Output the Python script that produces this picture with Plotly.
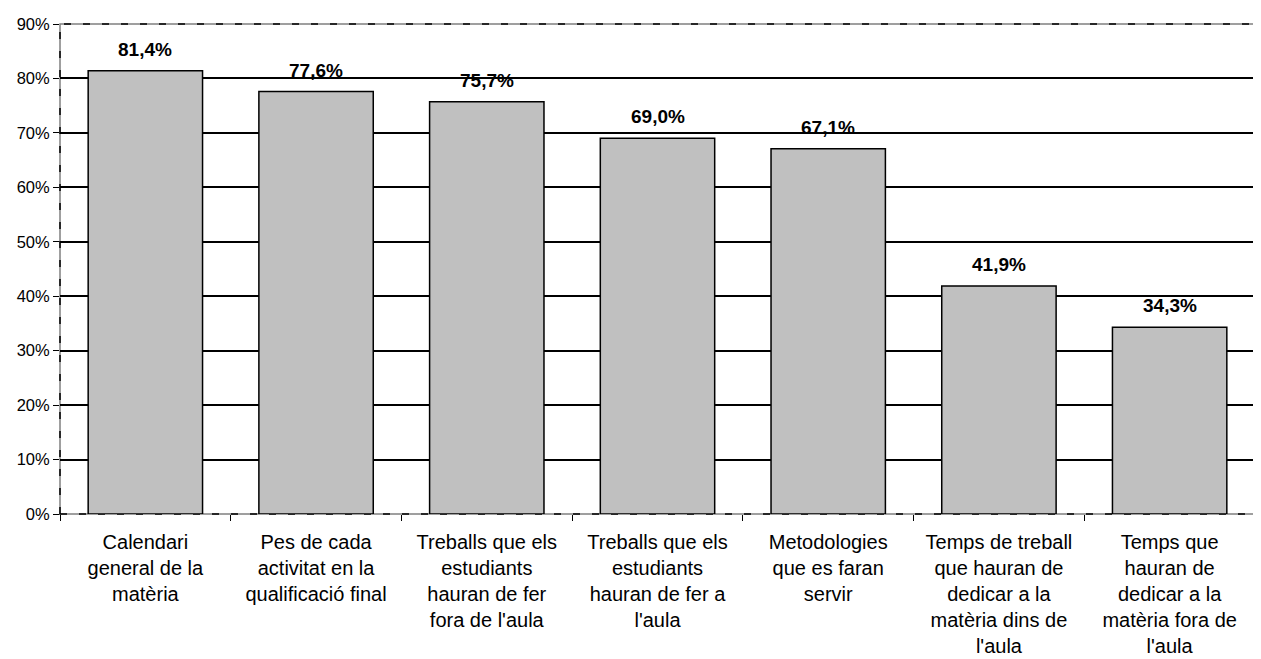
import plotly.graph_objects as go

categories = [
    "Calendari<br>general de la<br>matèria",
    "Pes de cada<br>activitat en la<br>qualificació final",
    "Treballs que els<br>estudiants<br>hauran de fer<br>fora de l'aula",
    "Treballs que els<br>estudiants<br>hauran de fer a<br>l'aula",
    "Metodologies<br>que es faran<br>servir",
    "Temps de treball<br>que hauran de<br>dedicar a la<br>matèria dins de<br>l'aula",
    "Temps que<br>hauran de<br>dedicar a la<br>matèria fora de<br>l'aula",
]
values = [81.4, 77.6, 75.7, 69.0, 67.1, 41.9, 34.3]
y_ticks = [0, 10, 20, 30, 40, 50, 60, 70, 80, 90]
grid_ticks = [10, 20, 30, 40, 50, 60, 70, 80]

labels = [f"{v:.1f}%".replace(".", ",") for v in values]
FONT = "Liberation Sans, Arial, sans-serif"

fig = go.Figure()

fig.add_trace(go.Bar(
    x=categories,
    y=values,
    marker=dict(color="#C0C0C0", line=dict(color="black", width=1.5)),
    showlegend=False,
    hoverinfo="skip",
))

# value labels above the bars
for cat, v, lab in zip(categories, values, labels):
    fig.add_annotation(x=cat, y=v, text=lab, showarrow=False, yanchor="bottom",
                       yshift=9, font=dict(family=FONT, size=19, color="black", weight="bold"))

# dashed frame: grey line with black dashes on top
fig.add_shape(type="rect", xref="paper", yref="paper", x0=0, x1=1, y0=0, y1=1,
              line=dict(color="#808080", width=1.5), layer="between")
fig.add_shape(type="rect", xref="paper", yref="paper", x0=0, x1=1, y0=0, y1=1,
              line=dict(color="black", width=1.5, dash="7px,12px"), layer="between")

# page body has an 8px margin, so the figure is sized to fit the window
fig.update_layout(
    width=1253,
    height=651,
    margin=dict(l=52, r=6, t=16, b=145),
    plot_bgcolor="white",
    paper_bgcolor="white",
    font=dict(family=FONT, color="black"),
    bargap=0.33,
    xaxis=dict(
        tickson="boundaries",
        ticks="outside",
        ticklen=6,
        tickcolor="black",
        tickwidth=1,
        tickfont=dict(size=20),
        ticklabelstandoff=14,
        showgrid=False,
        showline=False,
        zeroline=False,
        automargin=False,
    ),
    yaxis=dict(
        range=[0, 90],
        tickvals=y_ticks,
        ticktext=[f"{t}%" for t in y_ticks],
        ticks="outside",
        ticklen=6,
        tickcolor="black",
        tickfont=dict(size=16.5),
        showgrid=False,
        zeroline=False,
        showline=False,
        automargin=False,
    ),
    yaxis2=dict(
        overlaying="y",
        range=[0, 90],
        tickvals=grid_ticks,
        showticklabels=False,
        showgrid=True,
        gridcolor="black",
        gridwidth=1.5,
        zeroline=False,
        automargin=False,
    ),
)

# invisible trace to activate the grid axis
fig.add_trace(go.Scatter(x=[categories[0]], y=[0], yaxis="y2", mode="markers",
                         marker=dict(opacity=0), showlegend=False, hoverinfo="skip"))

fig.write_html("out.html")
